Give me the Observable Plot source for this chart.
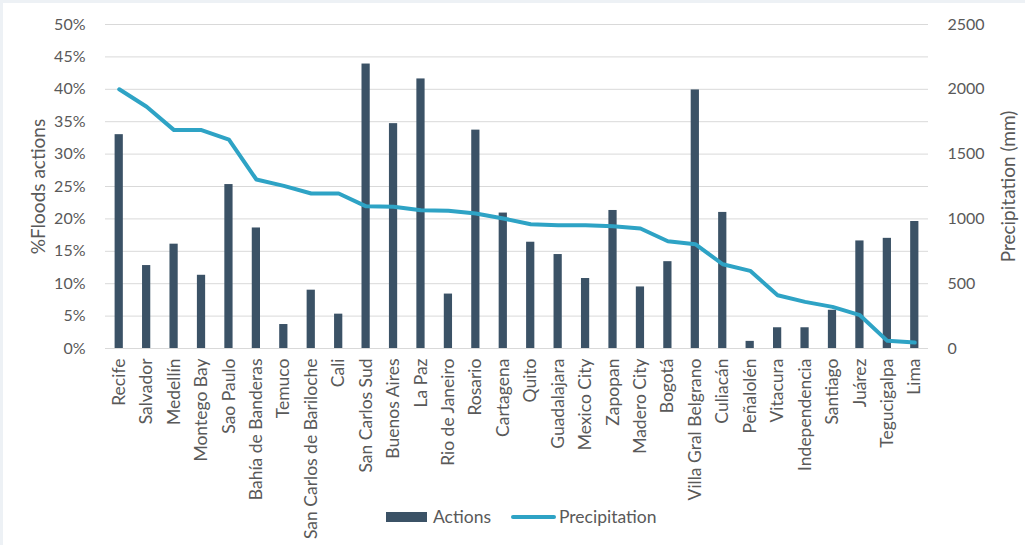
<!DOCTYPE html>
<html>
<head>
<meta charset="utf-8">
<script src="https://cdn.jsdelivr.net/npm/d3@7"></script>
<script src="https://cdn.jsdelivr.net/npm/@observablehq/plot@0.6"></script>
<style>
  html, body { margin: 0; padding: 0; background: #ffffff; }
  #wrap { position: relative; width: 1025px; height: 545px; background: #ffffff; box-shadow: inset 3px 3px 0 #edf1f5; overflow: hidden; font-family: Lato, "Open Sans", sans-serif; }
  #chart { position: absolute; left: 0; top: 0; }
  #legend { position: absolute; left: 386px; top: 506px; display: flex; align-items: center; font-size: 17.5px; color: #595959; white-space: nowrap; }
  .sw-bar { width: 41px; height: 10px; background: #3b5266; margin-right: 6px; }
  .sw-line { width: 45px; height: 4px; border-radius: 2px; background: #2ea3c5; margin-left: 20px; margin-right: 3px; }
</style>
</head>
<body>
<div id="wrap">
  <div id="chart"></div>
  <div id="legend"><span class="sw-bar"></span><span>Actions</span><span class="sw-line"></span><span>Precipitation</span></div>
</div>
<script>
const cities = ["Recife", "Salvador", "Medellín", "Montego Bay", "Sao Paulo", "Bahía de Banderas", "Temuco", "San Carlos de Bariloche", "Cali", "San Carlos Sud", "Buenos Aires", "La Paz", "Rio de Janeiro", "Rosario", "Cartagena", "Quito", "Guadalajara", "Mexico City", "Zapopan", "Madero City", "Bogotá", "Villa Gral Belgrano", "Culiacán", "Peñalolén", "Vitacura", "Independencia", "Santiago", "Juárez", "Tegucigalpa", "Lima"];
const actions = [33.0, 12.8, 16.1, 11.3, 25.3, 18.6, 3.7, 9.0, 5.3, 43.9, 34.7, 41.6, 8.4, 33.7, 20.9, 16.4, 14.5, 10.8, 21.3, 9.5, 13.4, 39.9, 21.0, 1.1, 3.2, 3.2, 5.9, 16.6, 17.0, 19.6];
const precipitation = [2000, 1865, 1685, 1685, 1612, 1304, 1255, 1196, 1196, 1097, 1093, 1067, 1062, 1042, 1003, 959, 951, 951, 944, 926, 828, 805, 650, 599, 411, 360, 321, 257, 59, 46];
const pctTicks = [0, 5, 10, 15, 20, 25, 30, 35, 40, 45, 50];
const mmTicks = [0, 500, 1000, 1500, 2000, 2500];
const leftTitle = "%Floods actions";
const rightTitle = "Precipitation (mm)";
const pctMax = 50;
const mmMax = 2500;

const barColor = "#3b5266";
const lineColor = "#2ea3c5";
const toPct = mm => mm / mmMax * pctMax;

const data = cities.map((city, i) => ({city, actions: actions[i], precipitation: precipitation[i]}));

const chart = Plot.plot({
  width: 1025,
  height: 545,
  marginLeft: 105,
  marginRight: 97,
  marginTop: 24,
  marginBottom: 197,
  style: {fontFamily: "Lato, 'Open Sans', sans-serif", fontSize: "16px", color: "#595959", background: "transparent", overflow: "visible"},
  x: {domain: cities, padding: 0, round: false, label: null},
  y: {domain: [0, pctMax], label: null},
  marks: [
    Plot.gridY(pctTicks, {stroke: "#d9d9d9", strokeOpacity: 1, strokeWidth: 1}),
    Plot.barY(data, {x: "city", y: "actions", fill: barColor, insetLeft: 9.6, insetRight: 9.6}),
    Plot.line(data, {x: "city", y: d => toPct(d.precipitation), stroke: lineColor, strokeWidth: 4, strokeLinejoin: "round", strokeLinecap: "round"}),
    Plot.axisX({tickRotate: -90, tickSize: 0, tickPadding: 10, label: null, fontSize: 17.5}),
    Plot.axisY(pctTicks, {anchor: "left", tickSize: 0, tickPadding: 20, tickFormat: d => d + "%", label: null, fontSize: 16}),
    Plot.axisY(mmTicks.map(toPct), {anchor: "right", tickSize: 0, tickPadding: 19, tickFormat: d => String(Math.round(d / pctMax * mmMax)), label: null, fontSize: 16}),
    Plot.text([leftTitle], {frameAnchor: "left", textAnchor: "middle", dx: -67, rotate: -90, fontSize: 19, fill: "#595959"}),
    Plot.text([rightTitle], {frameAnchor: "right", textAnchor: "middle", dx: 80, rotate: -90, fontSize: 19, fill: "#595959"})
  ]
});
document.getElementById("chart").appendChild(chart);
</script>
</body>
</html>
